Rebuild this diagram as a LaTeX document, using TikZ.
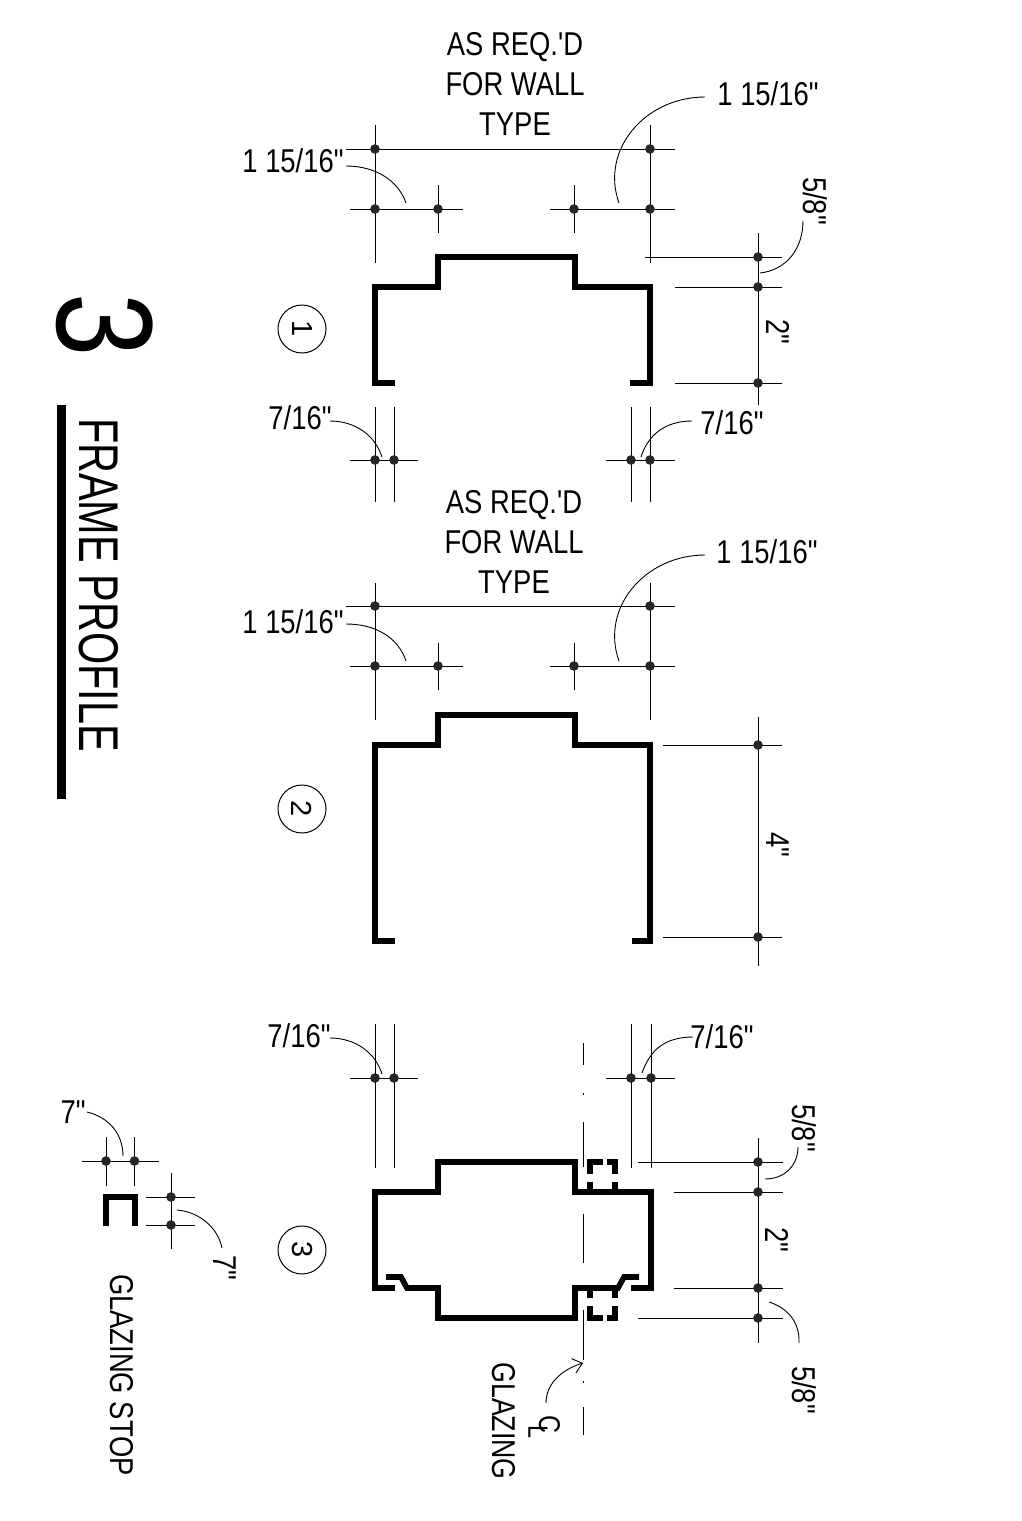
\documentclass[tikz,border=0pt]{standalone}
\usepackage{fontspec}
\usepackage{graphicx}
\usetikzlibrary{arrows.meta}
\newfontfamily\lab{Liberation Sans}
\newcommand{\nar}[2][.83]{\scalebox{#1}[1]{#2}}
\tikzset{
  lbl/.style={font=\lab\fontsize{33}{40}\selectfont,inner sep=0pt,align=center,text=black},
  dimln/.style={draw=black,line width=1pt},
  leader/.style={draw=black,line width=.9pt},
  wall/.style={draw=black,line width=5.6pt,miter limit=10,line join=miter,line cap=butt},
  jdot/.style={fill=black!85,draw=none},
  ring/.style={draw=black,line width=1pt,circle,minimum size=48pt,inner sep=0pt,font=\lab\fontsize{29}{29}\selectfont},
}
\newcommand{\jd}[2]{\fill[jdot] (#1,#2) circle (4.8pt);}
\begin{document}
\begin{tikzpicture}[x=1pt,y=-1pt]
\useasboundingbox (0,0) rectangle (1022,1521);
\fill[white] (0,0) rectangle (1022,1521);

% title
\fill[black] (57,405) rectangle (66,799);
\node[lbl,rotate=-90,font=\lab\fontsize{56}{56}\selectfont] (title) at (98.5,585) {\nar[.74]{FRAME PROFILE}};
\node[lbl,rotate=-90,font=\lab\fontsize{137}{137}\selectfont] (sheet) at (105,325) {\nar[.83]{3}};

% ---------- profile 1 ----------
\node[lbl] (t1) at (515,84) {\nar{AS REQ.'D}\\\nar{FOR WALL}\\\nar{TYPE}};
\node[lbl] (a1) at (768,94) {\nar{1 15/16"}};
\node[lbl] (a2) at (293,161) {\nar{1 15/16"}};
\node[lbl,rotate=-90] (a3) at (815,201) {\nar{5/8"}};
\node[lbl,rotate=-90] (a4) at (778,332) {\nar{2"}};
\node[lbl] (a5) at (300,418) {\nar{7/16"}};
\node[lbl] (a6) at (732,423) {\nar{7/16"}};
\node[ring] (c1) at (302,329) {\rotatebox{-90}{1}};
\draw[wall] (394.5,383)--(375,383)--(375,287)--(438,287)--(438,257)--(575,257)--(575,287)--(650,287)--(650,383)--(629.5,383);
\draw[dimln] (346,149)--(675,149) (350,209)--(463,209) (550,209)--(675,209)
  (375,125)--(375,263) (650,125)--(650,263) (438,185)--(438,233) (574,185)--(574,233)
  (645,257)--(782,257) (675,287)--(782,287) (675,383)--(782,383) (758,233)--(758,405)
  (375,407)--(375,502) (394,407)--(394,502) (631,407)--(631,502) (650,407)--(650,502)
  (350,460)--(418,460) (606,460)--(675,460);
\foreach \p/\q in {375/149,650/149,375/209,438/209,574/209,650/209,758/257,758/287,758/383,375/460,394/460,631/460,650/460}{\jd{\p}{\q}}
\draw[leader] (346,166) .. controls (375,166) and (398,180) .. (406,203);
\draw[leader] (705,97) .. controls (645,97) and (600,150) .. (619,203);
\draw[leader] (803,221) .. controls (803,248) and (787,270) .. (760,273);
\draw[leader] (330,421) .. controls (355,421) and (375,435) .. (382,457);
\draw[leader] (692,421) .. controls (665,421) and (648,435) .. (641,457);

% ---------- profile 2 ----------
\node[lbl] (t2) at (514,542) {\nar{AS REQ.'D}\\\nar{FOR WALL}\\\nar{TYPE}};
\node[lbl] (b1) at (767,552) {\nar{1 15/16"}};
\node[lbl] (b2) at (293,622) {\nar{1 15/16"}};
\node[lbl,rotate=-90] (b3) at (778,845) {\nar{4"}};
\node[ring] (c2) at (302,809) {\rotatebox{-90}{2}};
\draw[wall] (394.5,941)--(375,941)--(375,745)--(438,745)--(438,715)--(575,715)--(575,745)--(650,745)--(650,941)--(632,941);
\draw[dimln] (346,606)--(675,606) (350,666)--(463,666) (550,666)--(675,666)
  (375,583)--(375,720) (650,583)--(650,720) (438,643)--(438,690) (574,643)--(574,690)
  (663,745)--(782,745) (663,937)--(782,937) (758,717)--(758,966);
\foreach \p/\q in {375/606,650/606,375/666,438/666,574/666,650/666,758/745,758/937}{\jd{\p}{\q}}
\draw[leader] (346,624) .. controls (375,624) and (398,637) .. (406,661);
\draw[leader] (705,555) .. controls (645,555) and (600,608) .. (619,661);

% ---------- profile 3 ----------
\node[lbl] (d1) at (299,1036) {\nar{7/16"}};
\node[lbl] (d2) at (722,1037) {\nar{7/16"}};
\node[lbl,rotate=-90] (d3) at (804,1128) {\nar{5/8"}};
\node[lbl,rotate=-90] (d4) at (777,1240) {\nar{2"}};
\node[lbl,rotate=-90] (d5) at (804,1390) {\nar{5/8"}};
\node[ring] (c3) at (302,1250) {\rotatebox{-90}{3}};
\draw[wall] (395,1288)--(375,1288)--(375,1192)--(438,1192)--(438,1162)--(575,1162)--(575,1192)--(651,1192)--(651,1288)--(631,1288);
\draw[wall] (386,1277)--(401,1277)--(407,1288)--(438,1288)--(438,1318)--(575,1318)--(575,1288)--(618,1288)--(624,1277)--(639,1277);
\draw[wall] (603,1162)--(590,1162)--(590,1174) (607,1162)--(615,1162)--(615,1174)
  (590,1182)--(590,1192) (615,1182)--(615,1192) (590,1288)--(590,1298) (615,1288)--(615,1298)
  (590,1306)--(590,1318)--(603,1318) (615,1306)--(615,1318)--(607,1318);
\draw[dimln] (375,1024)--(375,1168) (394,1024)--(394,1168) (631,1024)--(631,1168) (651,1024)--(651,1168)
  (350,1078)--(418,1078) (606,1078)--(675,1078)
  (638,1162)--(783,1162) (674,1192)--(783,1192) (674,1288)--(783,1288) (638,1318)--(783,1318) (758,1138)--(758,1343);
\foreach \p/\q in {375/1078,394/1078,631/1078,651/1078,758/1162,758/1192,758/1288,758/1318}{\jd{\p}{\q}}
\draw[leader] (330,1038) .. controls (355,1038) and (375,1052) .. (382,1074);
\draw[leader] (693,1037) .. controls (665,1037) and (650,1050) .. (642,1073);
\draw[leader] (798,1147) .. controls (798,1165) and (785,1179) .. (765,1179);
\draw[leader] (769,1302) .. controls (785,1307) and (800,1320) .. (799,1343);
% glazing centre line
\draw[dimln] (583,1043)--(583,1065) (583,1093)--(583,1095) (583,1122)--(583,1167) (583,1214)--(583,1263) (583,1310)--(583,1360) (583,1381)--(583,1383) (583,1407)--(583,1435);
\coordinate (cg) at (583,1363);
\draw[leader,-{Straight Barb[length=9pt,width=15pt]}] (546,1403) .. controls (546,1385) and (560,1370) .. (cg);
\node[lbl,rotate=-90,font=\lab\fontsize{30}{30}\selectfont] (cl1) at (549.5,1424) {\nar{C}};
\node[lbl,rotate=-90,font=\lab\fontsize{28}{28}\selectfont] (cl2) at (538,1432) {\nar{L}};
\node[lbl,rotate=-90] (gl) at (504,1421) {\nar[.81]{GLAZING}};

% ---------- glazing stop ----------
\draw[wall,line width=5.8pt] (106,1226)--(106,1197)--(135,1197)--(135,1226);
\draw[dimln] (82,1161)--(159,1161) (106,1137)--(106,1186) (134.5,1137)--(134.5,1186)
  (171,1173)--(171,1249) (146,1197)--(195,1197) (146,1225)--(195,1225);
\foreach \p/\q in {106/1161,134.5/1161,171/1197,171/1225}{\jd{\p}{\q}}
\draw[leader] (87,1112) .. controls (108,1117) and (123,1133) .. (123,1156);
\draw[leader] (177,1210) .. controls (200,1212) and (218,1228) .. (222,1248);
\node[lbl] (e1) at (73,1112) {\nar{7"}};
\node[lbl,rotate=-90] (e2) at (225,1268) {\nar{7"}};
\node[lbl,rotate=-90] (gs) at (122,1375) {\nar{GLAZING STOP}};
\end{tikzpicture}
\end{document}
